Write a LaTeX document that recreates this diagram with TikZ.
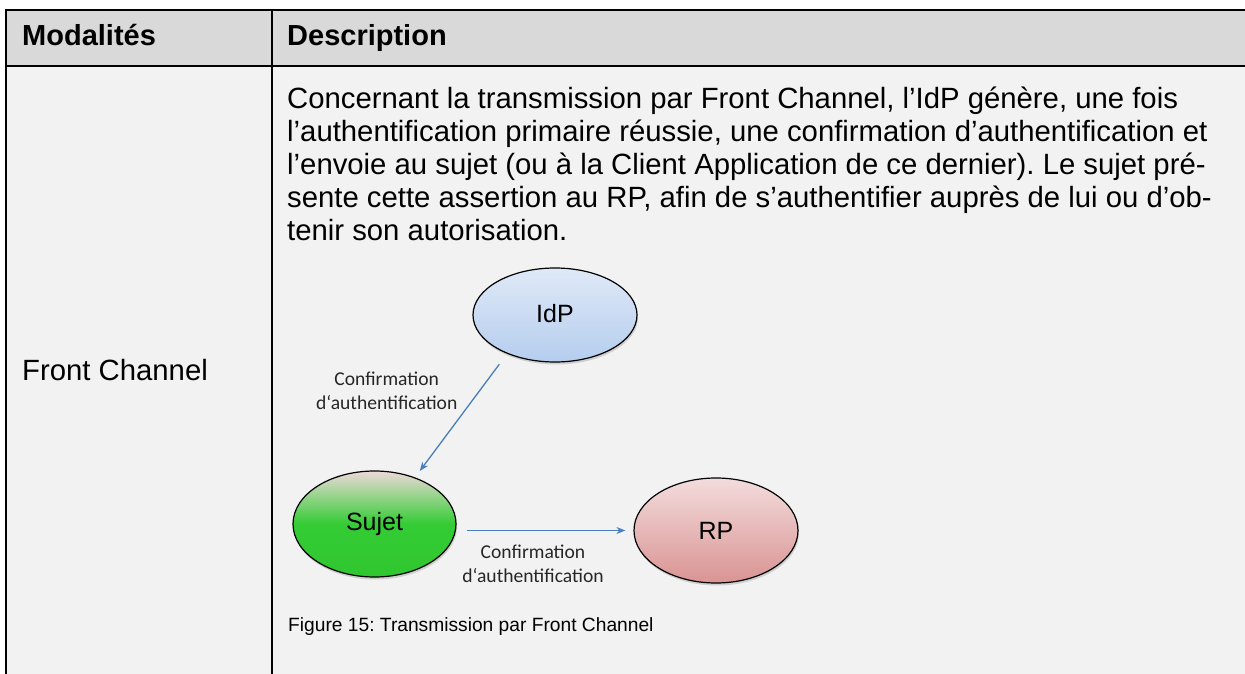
\documentclass[tikz,border=0pt]{standalone}
\usepackage{fontspec}
\setmainfont{Liberation Sans}
\newfontfamily\lblfont{Carlito}
\usetikzlibrary{shapes.geometric,arrows.meta,shadows}
\frenchspacing

\definecolor{hdrgray}{HTML}{D9D9D9}
\definecolor{cellgray}{HTML}{F2F2F2}
\definecolor{arrowblue}{HTML}{4A7EBB}
\definecolor{idptop}{HTML}{DFE9F7}
\definecolor{idpbot}{HTML}{B5CDEE}
\definecolor{sujtop}{HTML}{EED9D9}
\definecolor{sujmid}{HTML}{34CC34}
\definecolor{sujbot}{HTML}{30C630}
\definecolor{rptop}{HTML}{F3DCDC}
\definecolor{rpbot}{HTML}{DA9393}

\tikzset{
  rule/.style={line width=2pt, black},
  bodytext/.style={inner sep=0pt, anchor=base west, font=\fontsize{29.3}{33}\selectfont},
  headtext/.style={bodytext, font=\fontsize{29}{33}\selectfont\bfseries},
  actor/.style={ellipse, draw=black, line width=1.2pt, inner sep=0pt,
    font=\fontsize{25}{28}\selectfont,
    drop shadow={opacity=0.3, shadow xshift=1pt, shadow yshift=-2.5pt}},
  flow/.style={draw=arrowblue, line width=1.3pt,
    -{Stealth[length=9pt, width=7pt]}},
  flowlabel/.style={align=center, inner sep=0pt, text=black!85,
    font=\lblfont\fontsize{19.6}{23.5}\selectfont},
}

\begin{document}
\begin{tikzpicture}[x=1pt, y=-1pt]
  \useasboundingbox (0,0) rectangle (1245,674);
  \fill[white] (0,0) rectangle (1245,674);

  % table cells
  \fill[cellgray] (6,10) rectangle (1245,674);
  \fill[hdrgray] (6,10) rectangle (1245,66);

  % table rules
  \draw[rule] (5,10) -- (1245,10);
  \draw[rule] (6,66) -- (1245,66);
  \draw[rule] (6,9) -- (6,674);
  \draw[rule] (272,9) -- (272,674);

  % header row
  \node[headtext] (h1) at (22,46) {Modalités};
  \node[headtext] (h2) at (287,46) {Description};

  % first column
  \node[bodytext] (mod) at (22,380) {Front Channel};

  % description paragraph
  \node[bodytext] (d1) at (287,108.3) {Concernant la transmission par Front Channel, l’IdP génère, une fois};
  \node[bodytext] (d2) at (287,141.3) {l’authentification primaire réussie, une confirmation d’authentification et};
  \node[bodytext] (d3) at (287,174.3) {l’envoie au sujet (ou à la Client Application de ce dernier). Le sujet pré-};
  \node[bodytext] (d4) at (287,207.3) {sente cette assertion au RP, afin de s’authentifier auprès de lui ou d’ob-};
  \node[bodytext] (d5) at (287,240.3) {tenir son autorisation.};

  % actors
  \node[actor, minimum width=164pt, minimum height=94pt,
        top color=idptop, bottom color=idpbot] (idp) at (555,315) {\raisebox{4pt}{IdP}};
  \node[actor, minimum width=163pt, minimum height=106pt,
        top color=sujtop, bottom color=sujbot, middle color=sujmid] (sujet) at (374.5,524) {Sujet};
  \node[actor, minimum width=164pt, minimum height=105pt,
        top color=rptop, bottom color=rpbot] (rp) at (716,530.5) {RP};

  % message flows
  \draw[flow, shorten <=13pt, shorten >=8pt] (idp.219) -- (sujet.49);
  \draw[flow, shorten <=10pt, shorten >=8pt] (rp.west -| sujet.east) -- (rp.west);

  \node[flowlabel] (lbl1) at (386.7,391) {Confirmation\\d‘authentification};
  \node[flowlabel] (lbl2) at (533,564) {Confirmation\\d‘authentification};

  % caption
  \node[bodytext, font=\fontsize{19.2}{23}\selectfont] (cap) at (288,631) {Figure 15: Transmission par Front Channel};
\end{tikzpicture}
\end{document}
